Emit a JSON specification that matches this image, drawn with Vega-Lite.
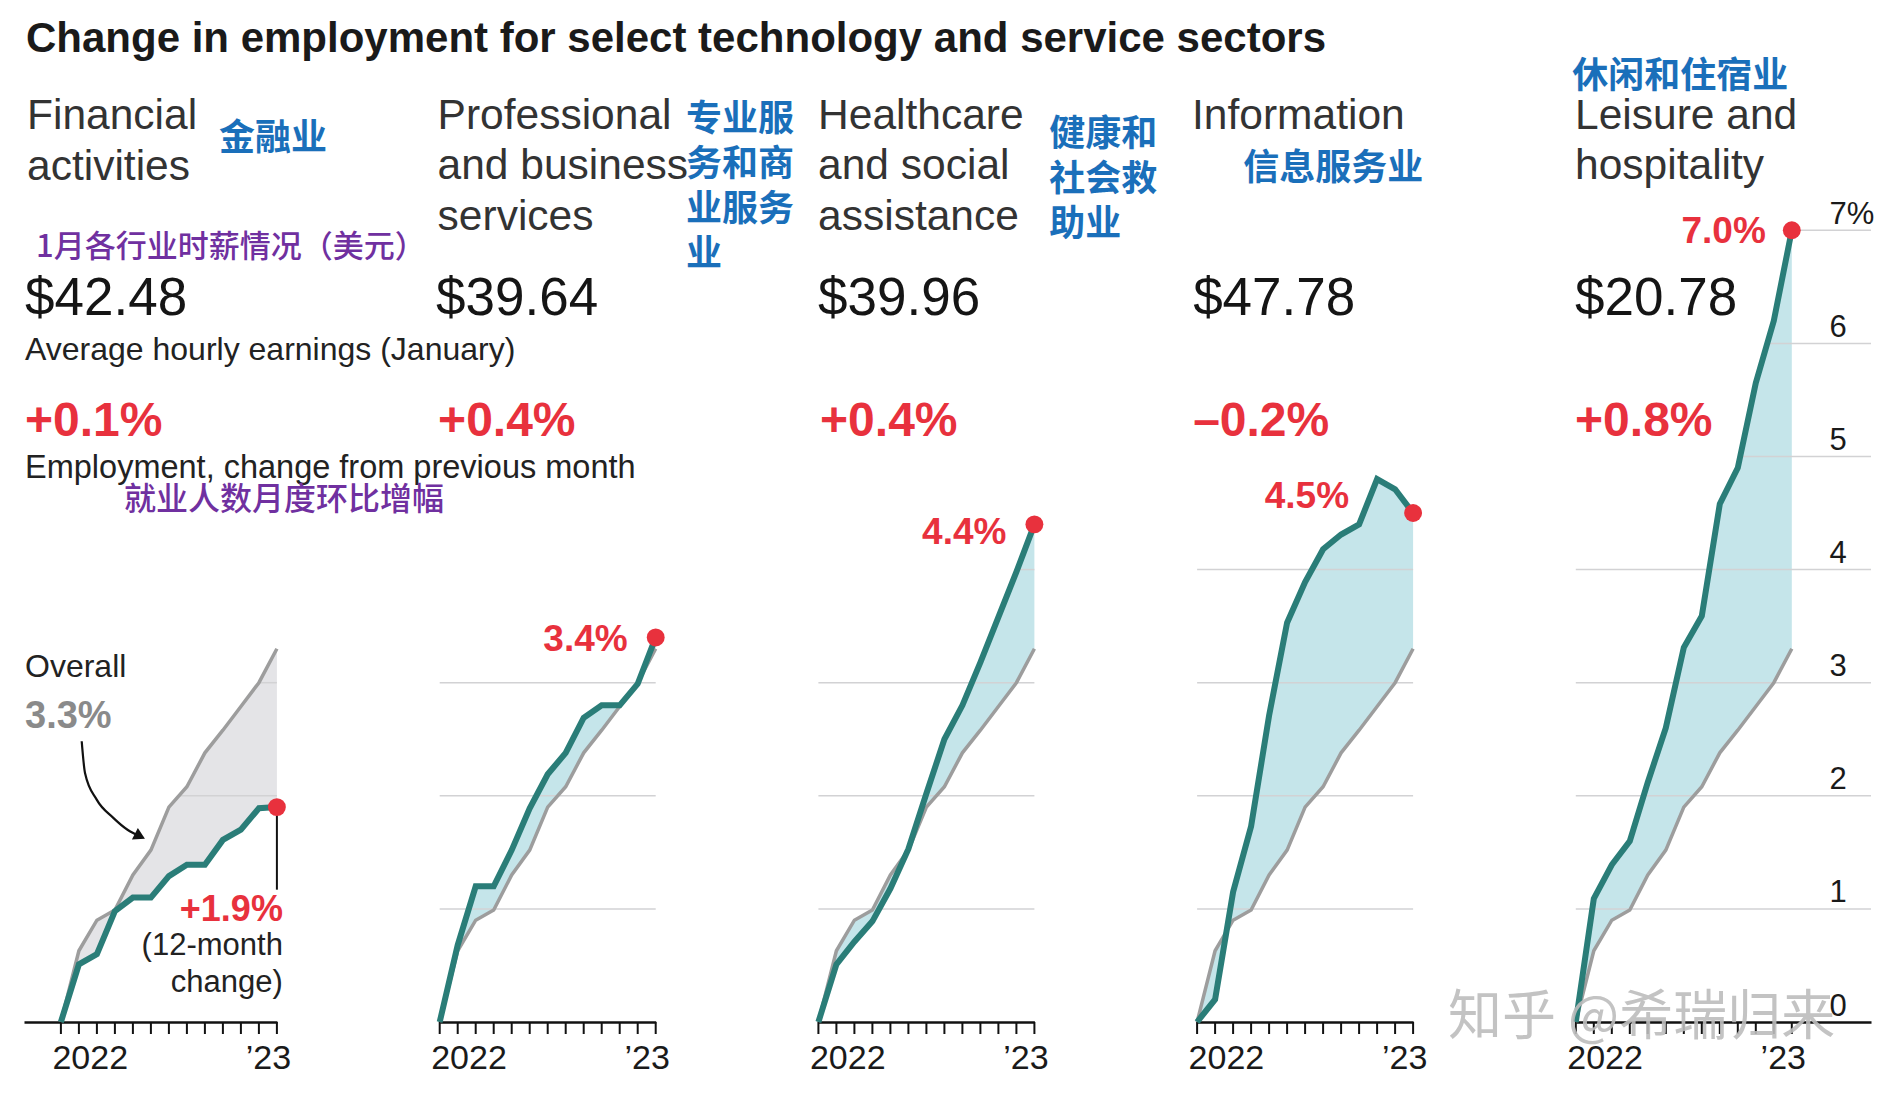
{
  "$schema": "https://vega.github.io/schema/vega-lite/v6.json",
  "background": "white",
  "padding": {"left": 24, "top": 0, "right": 10, "bottom": 10},
  "bounds": "flush",
  "spacing": 162.7,
  "config": {"view": {"stroke": null}},
  "datasets": {
    "series": [
      {"sector": "Financial activities", "month": 0, "pct": 0, "overall": 0},
      {"sector": "Financial activities", "month": 1, "pct": 0.51, "overall": 0.63},
      {"sector": "Financial activities", "month": 2, "pct": 0.6, "overall": 0.9},
      {"sector": "Financial activities", "month": 3, "pct": 0.98, "overall": 0.99},
      {"sector": "Financial activities", "month": 4, "pct": 1.1, "overall": 1.3},
      {"sector": "Financial activities", "month": 5, "pct": 1.1, "overall": 1.52},
      {"sector": "Financial activities", "month": 6, "pct": 1.29, "overall": 1.9},
      {"sector": "Financial activities", "month": 7, "pct": 1.39, "overall": 2.08},
      {"sector": "Financial activities", "month": 8, "pct": 1.39, "overall": 2.38},
      {"sector": "Financial activities", "month": 9, "pct": 1.61, "overall": 2.58},
      {"sector": "Financial activities", "month": 10, "pct": 1.7, "overall": 2.79},
      {"sector": "Financial activities", "month": 11, "pct": 1.89, "overall": 3.0},
      {"sector": "Financial activities", "month": 12, "pct": 1.9, "overall": 3.3},
      {"sector": "Professional and business services", "month": 0, "pct": 0, "overall": 0},
      {"sector": "Professional and business services", "month": 1, "pct": 0.68, "overall": 0.63},
      {"sector": "Professional and business services", "month": 2, "pct": 1.2, "overall": 0.9},
      {"sector": "Professional and business services", "month": 3, "pct": 1.2, "overall": 0.99},
      {"sector": "Professional and business services", "month": 4, "pct": 1.52, "overall": 1.3},
      {"sector": "Professional and business services", "month": 5, "pct": 1.89, "overall": 1.52},
      {"sector": "Professional and business services", "month": 6, "pct": 2.19, "overall": 1.9},
      {"sector": "Professional and business services", "month": 7, "pct": 2.38, "overall": 2.08},
      {"sector": "Professional and business services", "month": 8, "pct": 2.69, "overall": 2.38},
      {"sector": "Professional and business services", "month": 9, "pct": 2.8, "overall": 2.58},
      {"sector": "Professional and business services", "month": 10, "pct": 2.8, "overall": 2.79},
      {"sector": "Professional and business services", "month": 11, "pct": 2.99, "overall": 3.0},
      {"sector": "Professional and business services", "month": 12, "pct": 3.4, "overall": 3.3},
      {"sector": "Healthcare and social assistance", "month": 0, "pct": 0, "overall": 0},
      {"sector": "Healthcare and social assistance", "month": 1, "pct": 0.51, "overall": 0.63},
      {"sector": "Healthcare and social assistance", "month": 2, "pct": 0.71, "overall": 0.9},
      {"sector": "Healthcare and social assistance", "month": 3, "pct": 0.89, "overall": 0.99},
      {"sector": "Healthcare and social assistance", "month": 4, "pct": 1.18, "overall": 1.3},
      {"sector": "Healthcare and social assistance", "month": 5, "pct": 1.53, "overall": 1.52},
      {"sector": "Healthcare and social assistance", "month": 6, "pct": 2.02, "overall": 1.9},
      {"sector": "Healthcare and social assistance", "month": 7, "pct": 2.5, "overall": 2.08},
      {"sector": "Healthcare and social assistance", "month": 8, "pct": 2.8, "overall": 2.38},
      {"sector": "Healthcare and social assistance", "month": 9, "pct": 3.18, "overall": 2.58},
      {"sector": "Healthcare and social assistance", "month": 10, "pct": 3.58, "overall": 2.79},
      {"sector": "Healthcare and social assistance", "month": 11, "pct": 3.98, "overall": 3.0},
      {"sector": "Healthcare and social assistance", "month": 12, "pct": 4.4, "overall": 3.3},
      {"sector": "Information", "month": 0, "pct": 0, "overall": 0},
      {"sector": "Information", "month": 1, "pct": 0.2, "overall": 0.63},
      {"sector": "Information", "month": 2, "pct": 1.15, "overall": 0.9},
      {"sector": "Information", "month": 3, "pct": 1.73, "overall": 0.99},
      {"sector": "Information", "month": 4, "pct": 2.71, "overall": 1.3},
      {"sector": "Information", "month": 5, "pct": 3.53, "overall": 1.52},
      {"sector": "Information", "month": 6, "pct": 3.89, "overall": 1.9},
      {"sector": "Information", "month": 7, "pct": 4.18, "overall": 2.08},
      {"sector": "Information", "month": 8, "pct": 4.31, "overall": 2.38},
      {"sector": "Information", "month": 9, "pct": 4.4, "overall": 2.58},
      {"sector": "Information", "month": 10, "pct": 4.8, "overall": 2.79},
      {"sector": "Information", "month": 11, "pct": 4.71, "overall": 3.0},
      {"sector": "Information", "month": 12, "pct": 4.5, "overall": 3.3},
      {"sector": "Leisure and hospitality", "month": 0, "pct": 0, "overall": 0},
      {"sector": "Leisure and hospitality", "month": 1, "pct": 1.09, "overall": 0.63},
      {"sector": "Leisure and hospitality", "month": 2, "pct": 1.39, "overall": 0.9},
      {"sector": "Leisure and hospitality", "month": 3, "pct": 1.6, "overall": 0.99},
      {"sector": "Leisure and hospitality", "month": 4, "pct": 2.12, "overall": 1.3},
      {"sector": "Leisure and hospitality", "month": 5, "pct": 2.6, "overall": 1.52},
      {"sector": "Leisure and hospitality", "month": 6, "pct": 3.31, "overall": 1.9},
      {"sector": "Leisure and hospitality", "month": 7, "pct": 3.59, "overall": 2.08},
      {"sector": "Leisure and hospitality", "month": 8, "pct": 4.58, "overall": 2.38},
      {"sector": "Leisure and hospitality", "month": 9, "pct": 4.9, "overall": 2.58},
      {"sector": "Leisure and hospitality", "month": 10, "pct": 5.65, "overall": 2.79},
      {"sector": "Leisure and hospitality", "month": 11, "pct": 6.2, "overall": 3.0},
      {"sector": "Leisure and hospitality", "month": 12, "pct": 7.0, "overall": 3.3}
    ],
    "grid": [
      {"sector": "Financial activities", "level": 2, "from": 6.56, "to": 12},
      {"sector": "Financial activities", "level": 3, "from": 11, "to": 12},
      {"sector": "Professional and business services", "level": 1, "from": 0, "to": 12},
      {"sector": "Professional and business services", "level": 2, "from": 0, "to": 12},
      {"sector": "Professional and business services", "level": 3, "from": 0, "to": 12},
      {"sector": "Healthcare and social assistance", "level": 1, "from": 0, "to": 12},
      {"sector": "Healthcare and social assistance", "level": 2, "from": 0, "to": 12},
      {"sector": "Healthcare and social assistance", "level": 3, "from": 0, "to": 12},
      {"sector": "Healthcare and social assistance", "level": 4, "from": 11.05, "to": 12},
      {"sector": "Information", "level": 1, "from": 0, "to": 12},
      {"sector": "Information", "level": 2, "from": 0, "to": 12},
      {"sector": "Information", "level": 3, "from": 0, "to": 12},
      {"sector": "Information", "level": 4, "from": 0, "to": 12},
      {"sector": "Leisure and hospitality", "level": 1, "from": 0, "to": 16.4},
      {"sector": "Leisure and hospitality", "level": 2, "from": 0, "to": 16.4},
      {"sector": "Leisure and hospitality", "level": 3, "from": 0, "to": 16.4},
      {"sector": "Leisure and hospitality", "level": 4, "from": 0, "to": 16.4},
      {"sector": "Leisure and hospitality", "level": 5, "from": 9.14, "to": 16.4},
      {"sector": "Leisure and hospitality", "level": 6, "from": 10.67, "to": 16.4},
      {"sector": "Leisure and hospitality", "level": 7, "from": 12, "to": 16.4}
    ]
  },
  "hconcat": [
    {
      "width": 252.9, "height": 1022,
      "data": {"name": "series"},
      "transform": [{"filter": "datum.sector === 'Financial activities'"}],
      "layer": [
        {"mark": {"type": "area", "color": "#e4e4e7", "opacity": 1}, "encoding": {
          "x": {"field": "month", "type": "quantitative", "scale": {"domain": [-2.05, 12], "nice": false, "zero": false},
            "axis": {"values": [0,1,2,3,4,5,6,7,8,9,10,11,12], "title": null, "grid": false, "domainColor": "#111111", "domainWidth": 2.5, "ticks": true, "tickOpacity": 0, "tickSize": 12, "labelExpr": "datum.value === 0 ? '2022' : (datum.value === 12 ? '’23' : '')", "labelFont": "Liberation Sans", "labelFontSize": 34, "labelColor": "#1a1a1a", "labelPadding": 7, "labelAlign": {"condition": {"test": "datum.value === 0", "value": "left"}, "value": "center"}, "labelOffset": -9, "labelBound": false, "labelFlush": false, "labelOverlap": false}},
          "y": {"field": "pct", "type": "quantitative", "scale": {"domain": [0, 9.036], "nice": false, "zero": false},
            "axis": {"title": null, "domain": false, "ticks": false, "labels": false, "grid": false}},
          "y2": {"field": "overall"}}},
        {"data": {"name": "grid"}, "transform": [{"filter": "datum.sector === 'Financial activities'"}], "mark": {"type": "rule", "color": "#d2d2d4", "strokeWidth": 1.5}, "encoding": {"x": {"field": "from", "type": "quantitative"}, "x2": {"field": "to"}, "y": {"field": "level", "type": "quantitative"}}},
        {"mark": {"type": "tick", "orient": "vertical", "color": "#111111", "thickness": 2, "size": 12, "yOffset": 6, "opacity": 1}, "encoding": {"x": {"field": "month", "type": "quantitative"}, "y": {"datum": 0}}},
        {"mark": {"type": "line", "color": "#9d9d9d", "strokeWidth": 3.5}, "encoding": {"x": {"field": "month", "type": "quantitative"}, "y": {"field": "overall", "type": "quantitative"}}},
        {"mark": {"type": "line", "color": "#2a7d78", "strokeWidth": 6}, "encoding": {"x": {"field": "month", "type": "quantitative"}, "y": {"field": "pct", "type": "quantitative"}}},
        {"data": {"values": [{"label": "+1.9%"}]}, "mark": {"type": "rule", "color": "#111111", "strokeWidth": 2}, "encoding": {"x": {"datum": 12}, "y": {"datum": 1.9}, "y2": {"datum": 1.17}}},
        {"transform": [{"filter": "datum.month === 12"}], "mark": {"type": "circle", "color": "#e8313d", "size": 320, "opacity": 1}, "encoding": {"x": {"field": "month", "type": "quantitative"}, "y": {"field": "pct", "type": "quantitative"}}},
        {"data": {"values": [{"month": 1.156, "pct": 2.482}, {"month": 1.339, "pct": 2.202}, {"month": 1.989, "pct": 1.966}, {"month": 2.911, "pct": 1.805}, {"month": 3.7, "pct": 1.7}, {"month": 4.39, "pct": 1.642}]}, "mark": {"type": "line", "color": "#111111", "strokeWidth": 2.2, "interpolate": "monotone"}, "encoding": {"x": {"field": "month", "type": "quantitative"}, "y": {"field": "pct", "type": "quantitative"}}},
        {"data": {"values": [{"month": 4.39, "pct": 1.642}]}, "mark": {"type": "point", "shape": "triangle-right", "filled": true, "color": "#111111", "size": 170, "angle": 27, "opacity": 1}, "encoding": {"x": {"field": "month", "type": "quantitative"}, "y": {"field": "pct", "type": "quantitative"}}},
        {"data": {"values": [{"label": "Change in employment for select technology and service sectors"}]}, "mark": {"type": "text", "align": "left", "baseline": "alphabetic", "font": "Liberation Sans", "fontWeight": "bold", "fontSize": 42, "color": "#1a1a1a"}, "encoding": {"x": {"datum": -1.94}, "y": {"datum": 8.577}, "text": {"field": "label"}}},
        {"data": {"values": [{"label": "Financial\nactivities"}]}, "mark": {"type": "text", "align": "left", "baseline": "alphabetic", "font": "Liberation Sans", "fontSize": 42.5, "color": "#333333", "lineBreak": "\n", "lineHeight": 51}, "encoding": {"x": {"datum": -1.883}, "y": {"datum": 7.899}, "text": {"field": "label"}}},
        {"data": {"values": [{"label": "金融业"}]}, "mark": {"type": "text", "align": "left", "baseline": "alphabetic", "font": "Noto Sans CJK SC", "fontWeight": "bold", "fontSize": 36, "color": "#1a6fba"}, "encoding": {"x": {"datum": 8.78}, "y": {"datum": 7.714}, "text": {"field": "label"}}},
        {"data": {"values": [{"label": "1月各行业时薪情况（美元）"}]}, "mark": {"type": "text", "align": "left", "baseline": "alphabetic", "font": "Noto Sans CJK SC", "fontWeight": 500, "fontSize": 31, "color": "#7030a0"}, "encoding": {"x": {"datum": -1.383}, "y": {"datum": 6.763}, "text": {"field": "label"}}},
        {"data": {"values": [{"label": "$42.48"}]}, "mark": {"type": "text", "align": "left", "baseline": "alphabetic", "font": "Liberation Sans", "fontSize": 53, "color": "#151515"}, "encoding": {"x": {"datum": -1.994}, "y": {"datum": 6.255}, "text": {"field": "label"}}},
        {"data": {"values": [{"label": "Average hourly earnings (January)"}]}, "mark": {"type": "text", "align": "left", "baseline": "alphabetic", "font": "Liberation Sans", "fontSize": 32, "color": "#222222"}, "encoding": {"x": {"datum": -1.994}, "y": {"datum": 5.857}, "text": {"field": "label"}}},
        {"data": {"values": [{"label": "+0.1%"}]}, "mark": {"type": "text", "align": "left", "baseline": "alphabetic", "font": "Liberation Sans", "fontWeight": "bold", "fontSize": 48, "color": "#e8313d"}, "encoding": {"x": {"datum": -1.994}, "y": {"datum": 5.185}, "text": {"field": "label"}}},
        {"data": {"values": [{"label": "Employment, change from previous month"}]}, "mark": {"type": "text", "align": "left", "baseline": "alphabetic", "font": "Liberation Sans", "fontSize": 32.5, "color": "#222222"}, "encoding": {"x": {"datum": -1.994}, "y": {"datum": 4.81}, "text": {"field": "label"}}},
        {"data": {"values": [{"label": "就业人数月度环比增幅"}]}, "mark": {"type": "text", "align": "left", "baseline": "alphabetic", "font": "Noto Sans CJK SC", "fontWeight": 500, "fontSize": 32, "color": "#7030a0"}, "encoding": {"x": {"datum": 3.506}, "y": {"datum": 4.526}, "text": {"field": "label"}}},
        {"data": {"values": [{"label": "Overall"}]}, "mark": {"type": "text", "align": "left", "baseline": "alphabetic", "font": "Liberation Sans", "fontSize": 32, "color": "#222222"}, "encoding": {"x": {"datum": -1.994}, "y": {"datum": 3.046}, "text": {"field": "label"}}},
        {"data": {"values": [{"label": "3.3%"}]}, "mark": {"type": "text", "align": "left", "baseline": "alphabetic", "font": "Liberation Sans", "fontWeight": "bold", "fontSize": 38, "color": "#8a8a8a"}, "encoding": {"x": {"datum": -1.994}, "y": {"datum": 2.603}, "text": {"field": "label"}}},
        {"data": {"values": [{"label": "+1.9%"}]}, "mark": {"type": "text", "align": "right", "baseline": "alphabetic", "dx": 6, "font": "Liberation Sans", "fontWeight": "bold", "fontSize": 36, "color": "#e8313d"}, "encoding": {"x": {"datum": 12}, "y": {"datum": 0.89}, "text": {"field": "label"}}},
        {"data": {"values": [{"label": "(12-month\nchange)"}]}, "mark": {"type": "text", "align": "right", "baseline": "alphabetic", "dx": 6, "font": "Liberation Sans", "fontSize": 31, "color": "#222222", "lineBreak": "\n", "lineHeight": 37}, "encoding": {"x": {"datum": 12}, "y": {"datum": 0.596}, "text": {"field": "label"}}}
      ]
    },
    {
      "width": 216, "height": 1022,
      "data": {"name": "series"},
      "transform": [{"filter": "datum.sector === 'Professional and business services'"}],
      "layer": [
        {"mark": {"type": "area", "color": "#c5e5ea", "opacity": 1}, "encoding": {
          "x": {"field": "month", "type": "quantitative", "scale": {"domain": [0, 12], "nice": false, "zero": false},
            "axis": {"values": [0,1,2,3,4,5,6,7,8,9,10,11,12], "title": null, "grid": false, "domainColor": "#111111", "domainWidth": 2.5, "ticks": true, "tickOpacity": 0, "tickSize": 12, "labelExpr": "datum.value === 0 ? '2022' : (datum.value === 12 ? '’23' : '')", "labelFont": "Liberation Sans", "labelFontSize": 34, "labelColor": "#1a1a1a", "labelPadding": 7, "labelAlign": {"condition": {"test": "datum.value === 0", "value": "left"}, "value": "center"}, "labelOffset": -9, "labelBound": false, "labelFlush": false, "labelOverlap": false}},
          "y": {"field": "pct", "type": "quantitative", "scale": {"domain": [0, 9.036], "nice": false, "zero": false},
            "axis": {"title": null, "domain": false, "ticks": false, "labels": false, "grid": false}},
          "y2": {"field": "overall"}}},
        {"data": {"name": "grid"}, "transform": [{"filter": "datum.sector === 'Professional and business services'"}], "mark": {"type": "rule", "color": "#d2d2d4", "strokeWidth": 1.5}, "encoding": {"x": {"field": "from", "type": "quantitative"}, "x2": {"field": "to"}, "y": {"field": "level", "type": "quantitative"}}},
        {"mark": {"type": "tick", "orient": "vertical", "color": "#111111", "thickness": 2, "size": 12, "yOffset": 6, "opacity": 1}, "encoding": {"x": {"field": "month", "type": "quantitative"}, "y": {"datum": 0}}},
        {"mark": {"type": "line", "color": "#9d9d9d", "strokeWidth": 3.5}, "encoding": {"x": {"field": "month", "type": "quantitative"}, "y": {"field": "overall", "type": "quantitative"}}},
        {"mark": {"type": "line", "color": "#2a7d78", "strokeWidth": 6}, "encoding": {"x": {"field": "month", "type": "quantitative"}, "y": {"field": "pct", "type": "quantitative"}}},
        {"transform": [{"filter": "datum.month === 12"}], "mark": {"type": "circle", "color": "#e8313d", "size": 320, "opacity": 1}, "encoding": {"x": {"field": "month", "type": "quantitative"}, "y": {"field": "pct", "type": "quantitative"}}},
        {"data": {"values": [{"label": "3.4%"}]}, "mark": {"type": "text", "align": "right", "baseline": "middle", "dx": -28, "dy": 3, "font": "Liberation Sans", "fontWeight": "bold", "fontSize": 37, "color": "#e8313d"}, "encoding": {"x": {"datum": 12}, "y": {"datum": 3.4}, "text": {"field": "label"}}},
        {"data": {"values": [{"label": "Professional\nand business\nservices"}]}, "mark": {"type": "text", "align": "left", "baseline": "alphabetic", "font": "Liberation Sans", "fontSize": 42.5, "color": "#333333", "lineBreak": "\n", "lineHeight": 50.5}, "encoding": {"x": {"datum": -0.117}, "y": {"datum": 7.899}, "text": {"field": "label"}}},
        {"data": {"values": [{"label": "专业服\n务和商\n业服务\n业"}]}, "mark": {"type": "text", "align": "left", "baseline": "alphabetic", "font": "Noto Sans CJK SC", "fontWeight": "bold", "fontSize": 36, "color": "#1a6fba", "lineBreak": "\n", "lineHeight": 45}, "encoding": {"x": {"datum": 13.69}, "y": {"datum": 7.877}, "text": {"field": "label"}}},
        {"data": {"values": [{"label": "$39.64"}]}, "mark": {"type": "text", "align": "left", "baseline": "alphabetic", "font": "Liberation Sans", "fontSize": 53, "color": "#151515"}, "encoding": {"x": {"datum": -0.2}, "y": {"datum": 6.255}, "text": {"field": "label"}}},
        {"data": {"values": [{"label": "+0.4%"}]}, "mark": {"type": "text", "align": "left", "baseline": "alphabetic", "font": "Liberation Sans", "fontWeight": "bold", "fontSize": 48, "color": "#e8313d"}, "encoding": {"x": {"datum": -0.089}, "y": {"datum": 5.185}, "text": {"field": "label"}}}
      ]
    },
    {
      "width": 216, "height": 1022,
      "data": {"name": "series"},
      "transform": [{"filter": "datum.sector === 'Healthcare and social assistance'"}],
      "layer": [
        {"mark": {"type": "area", "color": "#c5e5ea", "opacity": 1}, "encoding": {
          "x": {"field": "month", "type": "quantitative", "scale": {"domain": [0, 12], "nice": false, "zero": false},
            "axis": {"values": [0,1,2,3,4,5,6,7,8,9,10,11,12], "title": null, "grid": false, "domainColor": "#111111", "domainWidth": 2.5, "ticks": true, "tickOpacity": 0, "tickSize": 12, "labelExpr": "datum.value === 0 ? '2022' : (datum.value === 12 ? '’23' : '')", "labelFont": "Liberation Sans", "labelFontSize": 34, "labelColor": "#1a1a1a", "labelPadding": 7, "labelAlign": {"condition": {"test": "datum.value === 0", "value": "left"}, "value": "center"}, "labelOffset": -9, "labelBound": false, "labelFlush": false, "labelOverlap": false}},
          "y": {"field": "pct", "type": "quantitative", "scale": {"domain": [0, 9.036], "nice": false, "zero": false},
            "axis": {"title": null, "domain": false, "ticks": false, "labels": false, "grid": false}},
          "y2": {"field": "overall"}}},
        {"data": {"name": "grid"}, "transform": [{"filter": "datum.sector === 'Healthcare and social assistance'"}], "mark": {"type": "rule", "color": "#d2d2d4", "strokeWidth": 1.5}, "encoding": {"x": {"field": "from", "type": "quantitative"}, "x2": {"field": "to"}, "y": {"field": "level", "type": "quantitative"}}},
        {"mark": {"type": "tick", "orient": "vertical", "color": "#111111", "thickness": 2, "size": 12, "yOffset": 6, "opacity": 1}, "encoding": {"x": {"field": "month", "type": "quantitative"}, "y": {"datum": 0}}},
        {"mark": {"type": "line", "color": "#9d9d9d", "strokeWidth": 3.5}, "encoding": {"x": {"field": "month", "type": "quantitative"}, "y": {"field": "overall", "type": "quantitative"}}},
        {"mark": {"type": "line", "color": "#2a7d78", "strokeWidth": 6}, "encoding": {"x": {"field": "month", "type": "quantitative"}, "y": {"field": "pct", "type": "quantitative"}}},
        {"transform": [{"filter": "datum.month === 12"}], "mark": {"type": "circle", "color": "#e8313d", "size": 320, "opacity": 1}, "encoding": {"x": {"field": "month", "type": "quantitative"}, "y": {"field": "pct", "type": "quantitative"}}},
        {"data": {"values": [{"label": "4.4%"}]}, "mark": {"type": "text", "align": "right", "baseline": "middle", "dx": -28, "dy": 9, "font": "Liberation Sans", "fontWeight": "bold", "fontSize": 37, "color": "#e8313d"}, "encoding": {"x": {"datum": 12}, "y": {"datum": 4.4}, "text": {"field": "label"}}},
        {"data": {"values": [{"label": "Healthcare\nand social\nassistance"}]}, "mark": {"type": "text", "align": "left", "baseline": "alphabetic", "font": "Liberation Sans", "fontSize": 42.5, "color": "#333333", "lineBreak": "\n", "lineHeight": 50.5}, "encoding": {"x": {"datum": -0.017}, "y": {"datum": 7.899}, "text": {"field": "label"}}},
        {"data": {"values": [{"label": "健康和\n社会救\n助业"}]}, "mark": {"type": "text", "align": "left", "baseline": "alphabetic", "font": "Noto Sans CJK SC", "fontWeight": "bold", "fontSize": 36, "color": "#1a6fba", "lineBreak": "\n", "lineHeight": 45}, "encoding": {"x": {"datum": 12.82}, "y": {"datum": 7.744}, "text": {"field": "label"}}},
        {"data": {"values": [{"label": "$39.96"}]}, "mark": {"type": "text", "align": "left", "baseline": "alphabetic", "font": "Liberation Sans", "fontSize": 53, "color": "#151515"}, "encoding": {"x": {"datum": -0.017}, "y": {"datum": 6.255}, "text": {"field": "label"}}},
        {"data": {"values": [{"label": "+0.4%"}]}, "mark": {"type": "text", "align": "left", "baseline": "alphabetic", "font": "Liberation Sans", "fontWeight": "bold", "fontSize": 48, "color": "#e8313d"}, "encoding": {"x": {"datum": 0.094}, "y": {"datum": 5.185}, "text": {"field": "label"}}}
      ]
    },
    {
      "width": 216, "height": 1022,
      "data": {"name": "series"},
      "transform": [{"filter": "datum.sector === 'Information'"}],
      "layer": [
        {"mark": {"type": "area", "color": "#c5e5ea", "opacity": 1}, "encoding": {
          "x": {"field": "month", "type": "quantitative", "scale": {"domain": [0, 12], "nice": false, "zero": false},
            "axis": {"values": [0,1,2,3,4,5,6,7,8,9,10,11,12], "title": null, "grid": false, "domainColor": "#111111", "domainWidth": 2.5, "ticks": true, "tickOpacity": 0, "tickSize": 12, "labelExpr": "datum.value === 0 ? '2022' : (datum.value === 12 ? '’23' : '')", "labelFont": "Liberation Sans", "labelFontSize": 34, "labelColor": "#1a1a1a", "labelPadding": 7, "labelAlign": {"condition": {"test": "datum.value === 0", "value": "left"}, "value": "center"}, "labelOffset": -9, "labelBound": false, "labelFlush": false, "labelOverlap": false}},
          "y": {"field": "pct", "type": "quantitative", "scale": {"domain": [0, 9.036], "nice": false, "zero": false},
            "axis": {"title": null, "domain": false, "ticks": false, "labels": false, "grid": false}},
          "y2": {"field": "overall"}}},
        {"data": {"name": "grid"}, "transform": [{"filter": "datum.sector === 'Information'"}], "mark": {"type": "rule", "color": "#d2d2d4", "strokeWidth": 1.5}, "encoding": {"x": {"field": "from", "type": "quantitative"}, "x2": {"field": "to"}, "y": {"field": "level", "type": "quantitative"}}},
        {"mark": {"type": "tick", "orient": "vertical", "color": "#111111", "thickness": 2, "size": 12, "yOffset": 6, "opacity": 1}, "encoding": {"x": {"field": "month", "type": "quantitative"}, "y": {"datum": 0}}},
        {"mark": {"type": "line", "color": "#9d9d9d", "strokeWidth": 3.5}, "encoding": {"x": {"field": "month", "type": "quantitative"}, "y": {"field": "overall", "type": "quantitative"}}},
        {"mark": {"type": "line", "color": "#2a7d78", "strokeWidth": 6}, "encoding": {"x": {"field": "month", "type": "quantitative"}, "y": {"field": "pct", "type": "quantitative"}}},
        {"transform": [{"filter": "datum.month === 12"}], "mark": {"type": "circle", "color": "#e8313d", "size": 320, "opacity": 1}, "encoding": {"x": {"field": "month", "type": "quantitative"}, "y": {"field": "pct", "type": "quantitative"}}},
        {"data": {"values": [{"label": "4.5%"}]}, "mark": {"type": "text", "align": "right", "baseline": "middle", "dx": -64, "dy": -16, "font": "Liberation Sans", "fontWeight": "bold", "fontSize": 37, "color": "#e8313d"}, "encoding": {"x": {"datum": 12}, "y": {"datum": 4.5}, "text": {"field": "label"}}},
        {"data": {"values": [{"label": "Information"}]}, "mark": {"type": "text", "align": "left", "baseline": "alphabetic", "font": "Liberation Sans", "fontSize": 42.5, "color": "#333333"}, "encoding": {"x": {"datum": -0.28}, "y": {"datum": 7.899}, "text": {"field": "label"}}},
        {"data": {"values": [{"label": "信息服务业"}]}, "mark": {"type": "text", "align": "left", "baseline": "alphabetic", "font": "Noto Sans CJK SC", "fontWeight": "bold", "fontSize": 36, "color": "#1a6fba"}, "encoding": {"x": {"datum": 2.56}, "y": {"datum": 7.444}, "text": {"field": "label"}}},
        {"data": {"values": [{"label": "$47.78"}]}, "mark": {"type": "text", "align": "left", "baseline": "alphabetic", "font": "Liberation Sans", "fontSize": 53, "color": "#151515"}, "encoding": {"x": {"datum": -0.22}, "y": {"datum": 6.255}, "text": {"field": "label"}}},
        {"data": {"values": [{"label": "–0.2%"}]}, "mark": {"type": "text", "align": "left", "baseline": "alphabetic", "font": "Liberation Sans", "fontWeight": "bold", "fontSize": 48, "color": "#e8313d"}, "encoding": {"x": {"datum": -0.22}, "y": {"datum": 5.185}, "text": {"field": "label"}}}
      ]
    },
    {
      "width": 295.2, "height": 1022,
      "data": {"name": "series"},
      "transform": [{"filter": "datum.sector === 'Leisure and hospitality'"}],
      "layer": [
        {"mark": {"type": "area", "color": "#c5e5ea", "opacity": 1}, "encoding": {
          "x": {"field": "month", "type": "quantitative", "scale": {"domain": [0, 16.4], "nice": false, "zero": false},
            "axis": {"values": [0,1,2,3,4,5,6,7,8,9,10,11,12], "title": null, "grid": false, "domainColor": "#111111", "domainWidth": 2.5, "ticks": true, "tickOpacity": 0, "tickSize": 12, "labelExpr": "datum.value === 0 ? '2022' : (datum.value === 12 ? '’23' : '')", "labelFont": "Liberation Sans", "labelFontSize": 34, "labelColor": "#1a1a1a", "labelPadding": 7, "labelAlign": {"condition": {"test": "datum.value === 0", "value": "left"}, "value": "center"}, "labelOffset": -9, "labelBound": false, "labelFlush": false, "labelOverlap": false}},
          "y": {"field": "pct", "type": "quantitative", "scale": {"domain": [0, 9.036], "nice": false, "zero": false},
            "axis": {"orient": "right", "values": [0,1,2,3,4,5,6,7], "title": null, "grid": false, "domain": true, "domainOpacity": 0, "ticks": false, "tickSize": 0, "labelExpr": "datum.value === 7 ? '7%' : ((datum.value % 1 === 0 && datum.value < 7) ? format(datum.value, 'd') : '')", "labelFont": "Liberation Sans", "labelFontSize": 31, "labelColor": "#1a1a1a", "labelAlign": "left", "labelBaseline": "alphabetic", "labelPadding": -42, "labelOffset": -7, "labelBound": false, "labelFlush": false, "labelOverlap": false}},
          "y2": {"field": "overall"}}},
        {"data": {"name": "grid"}, "transform": [{"filter": "datum.sector === 'Leisure and hospitality'"}], "mark": {"type": "rule", "color": "#d2d2d4", "strokeWidth": 1.5}, "encoding": {"x": {"field": "from", "type": "quantitative"}, "x2": {"field": "to"}, "y": {"field": "level", "type": "quantitative"}}},
        {"mark": {"type": "tick", "orient": "vertical", "color": "#111111", "thickness": 2, "size": 12, "yOffset": 6, "opacity": 1}, "encoding": {"x": {"field": "month", "type": "quantitative"}, "y": {"datum": 0}}},
        {"mark": {"type": "line", "color": "#9d9d9d", "strokeWidth": 3.5}, "encoding": {"x": {"field": "month", "type": "quantitative"}, "y": {"field": "overall", "type": "quantitative"}}},
        {"mark": {"type": "line", "color": "#2a7d78", "strokeWidth": 6}, "encoding": {"x": {"field": "month", "type": "quantitative"}, "y": {"field": "pct", "type": "quantitative"}}},
        {"transform": [{"filter": "datum.month === 12"}], "mark": {"type": "circle", "color": "#e8313d", "size": 320, "opacity": 1}, "encoding": {"x": {"field": "month", "type": "quantitative"}, "y": {"field": "pct", "type": "quantitative"}}},
        {"data": {"values": [{"label": "7.0%"}]}, "mark": {"type": "text", "align": "right", "baseline": "middle", "dx": -26, "dy": 2, "font": "Liberation Sans", "fontWeight": "bold", "fontSize": 37, "color": "#e8313d"}, "encoding": {"x": {"datum": 12}, "y": {"datum": 7}, "text": {"field": "label"}}},
        {"data": {"values": [{"label": "Leisure and\nhospitality"}]}, "mark": {"type": "text", "align": "left", "baseline": "alphabetic", "font": "Liberation Sans", "fontSize": 42.5, "color": "#333333", "lineBreak": "\n", "lineHeight": 50}, "encoding": {"x": {"datum": -0.04}, "y": {"datum": 7.899}, "text": {"field": "label"}}},
        {"data": {"values": [{"label": "休闲和住宿业"}]}, "mark": {"type": "text", "align": "left", "baseline": "alphabetic", "font": "Noto Sans CJK SC", "fontWeight": "bold", "fontSize": 36, "color": "#1a6fba"}, "encoding": {"x": {"datum": -0.2}, "y": {"datum": 8.261}, "text": {"field": "label"}}},
        {"data": {"values": [{"label": "$20.78"}]}, "mark": {"type": "text", "align": "left", "baseline": "alphabetic", "font": "Liberation Sans", "fontSize": 53, "color": "#151515"}, "encoding": {"x": {"datum": -0.04}, "y": {"datum": 6.255}, "text": {"field": "label"}}},
        {"data": {"values": [{"label": "+0.8%"}]}, "mark": {"type": "text", "align": "left", "baseline": "alphabetic", "font": "Liberation Sans", "fontWeight": "bold", "fontSize": 48, "color": "#e8313d"}, "encoding": {"x": {"datum": -0.04}, "y": {"datum": 5.185}, "text": {"field": "label"}}},
        {"data": {"values": [{"label": "知乎 @希瑞归来"}]}, "mark": {"type": "text", "align": "left", "baseline": "alphabetic", "font": "Noto Sans CJK SC", "fontSize": 54, "color": "#bdbdbd", "opacity": 0.9}, "encoding": {"x": {"datum": -7.1}, "y": {"datum": -0.115}, "text": {"field": "label"}}}
      ]
    }
  ]
}
